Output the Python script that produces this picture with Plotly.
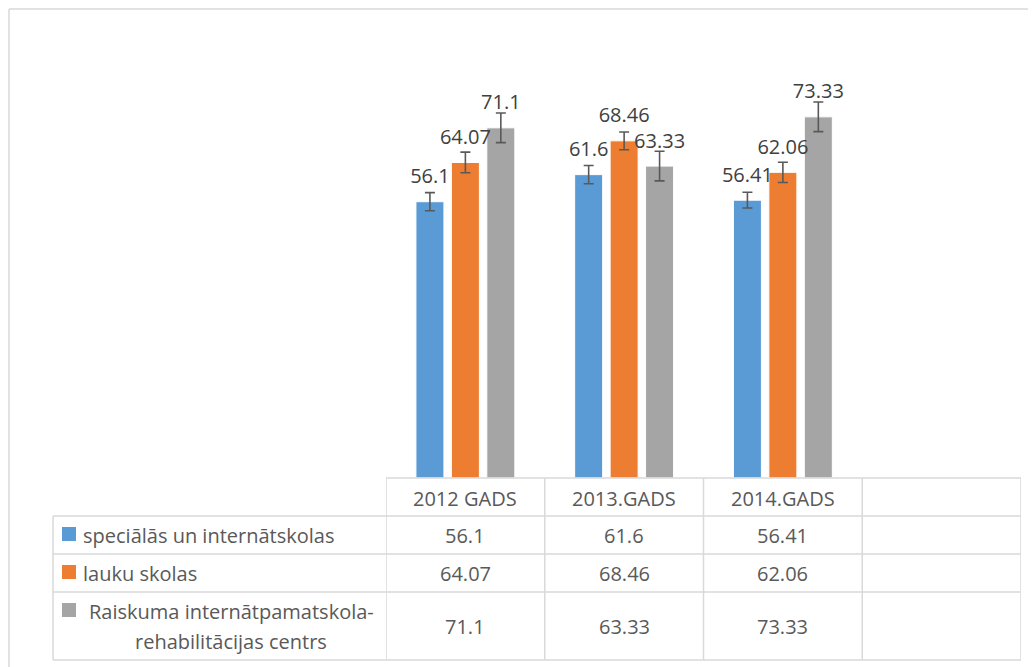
import plotly.graph_objects as go

categories = ["2012 GADS", "2013.GADS", "2014.GADS"]
series_names = ["speciālās un internātskolas", "lauku skolas", "Raiskuma internātpamatskola-rehabilitācijas centrs"]
special = [56.1, 61.6, 56.41]
rural = [64.07, 68.46, 62.06]
raiskums = [71.1, 63.33, 73.33]
special_err = [1.85, 1.85, 1.6]
rural_err = [2.1, 1.8, 2.05]
raiskums_err = [3.0, 3.0, 3.0]

values = [special, rural, raiskums]
errors = [special_err, rural_err, raiskums_err]
colors = ["#5B9BD5", "#ED7D31", "#A5A5A5"]

W, H = 1036, 667
OFF = 8  # page body margin
L, R, T, B = 386 - OFF, 1021 - OFF, 84 - OFF, 478 - OFF
FONT = "Open Sans, Lato, sans-serif"
TXT = "#595959"
GRID = "#D9D9D9"

def px(x):
    return (x - OFF - L) / (R - L)

def py(y):
    return (B - (y - OFF)) / (B - T)

fig = go.Figure()
for i in range(3):
    fig.add_trace(go.Bar(
        x=categories, y=values[i], name=series_names[i],
        marker=dict(color=colors[i], line=dict(color="white", width=1)),
        error_y=dict(type="data", array=errors[i], color="#595959", thickness=1.6, width=5),
        offsetgroup=str(i), hoverinfo="skip", showlegend=False,
    ))
for i in range(3):
    fig.add_trace(go.Scatter(
        x=categories, y=values[i], mode="markers+text",
        text=[f"{v:g}" for v in values[i]], textposition="top center",
        textfont=dict(family=FONT, size=20, color="#404040"),
        marker=dict(size=20, opacity=0),
        offsetgroup=str(i), hoverinfo="skip", showlegend=False,
    ))

shapes = []
line = dict(color=GRID, width=1.5)
# outer chart border (top & left)
shapes.append(dict(type="line", xref="paper", yref="paper", x0=px(9), x1=px(1050), y0=py(9), y1=py(9), line=line))
shapes.append(dict(type="line", xref="paper", yref="paper", x0=px(9), x1=px(9), y0=py(9), y1=py(690), line=line))
# table horizontal lines
row_y = [478, 516, 554, 592, 660]
shapes.append(dict(type="line", xref="paper", yref="paper", x0=0, x1=1, y0=py(row_y[0]), y1=py(row_y[0]), line=line))
for yy in row_y[1:]:
    shapes.append(dict(type="line", xref="paper", yref="paper", x0=px(53), x1=1, y0=py(yy), y1=py(yy), line=line))
# table vertical lines
shapes.append(dict(type="line", xref="paper", yref="paper", x0=px(53), x1=px(53), y0=py(516), y1=py(660), line=line))
for k in range(5):
    xx = -0.5 + k
    shapes.append(dict(type="line", xref="x", yref="paper", x0=xx, x1=xx, y0=py(478), y1=py(660), line=line))
# legend keys
key_tops = [527, 565, 603]
for i in range(3):
    shapes.append(dict(type="rect", xref="paper", yref="paper", x0=px(62), x1=px(76),
                       y0=py(key_tops[i]), y1=py(key_tops[i] + 14), fillcolor=colors[i], line=dict(width=0)))

ann = []
tf = dict(family=FONT, size=20, color=TXT)
for c in categories:
    ann.append(dict(x=c, y=py(498), xref="x", yref="paper", text=c, showarrow=False, font=tf,
                    xanchor="center", yanchor="middle"))
row_centers = [535, 573, 626]
for i in range(3):
    for j, c in enumerate(categories):
        ann.append(dict(x=c, y=py(row_centers[i]), xref="x", yref="paper", text=f"{values[i][j]:g}",
                        showarrow=False, font=tf, xanchor="center", yanchor="middle"))
ann.append(dict(x=px(81), y=py(535), xref="paper", yref="paper", text=series_names[0], showarrow=False,
                font=tf, xanchor="left", yanchor="middle"))
ann.append(dict(x=px(81), y=py(573), xref="paper", yref="paper", text=series_names[1], showarrow=False,
                font=tf, xanchor="left", yanchor="middle"))
part1, part2 = series_names[2].split("-", 1)
ann.append(dict(x=px(231), y=py(611), xref="paper", yref="paper", text=part1 + "-", showarrow=False,
                font=tf, xanchor="center", yanchor="middle"))
ann.append(dict(x=px(231), y=py(641), xref="paper", yref="paper", text=part2, showarrow=False,
                font=tf, xanchor="center", yanchor="middle"))

fig.update_layout(
    width=W, height=H,
    margin=dict(l=L, r=W - R, t=T, b=H - B),
    paper_bgcolor="white", plot_bgcolor="white",
    barmode="group", bargap=0.33, bargroupgap=0.21,
    scattermode="group", scattergap=0.33,
    xaxis=dict(type="category", range=[-0.5, 3.5], showticklabels=False, showgrid=False,
               zeroline=False, showline=False, ticks=""),
    yaxis=dict(range=[0, 80], visible=False),
    shapes=shapes, annotations=ann,
    font=dict(family=FONT, color=TXT),
)

fig.write_html("out.html")
